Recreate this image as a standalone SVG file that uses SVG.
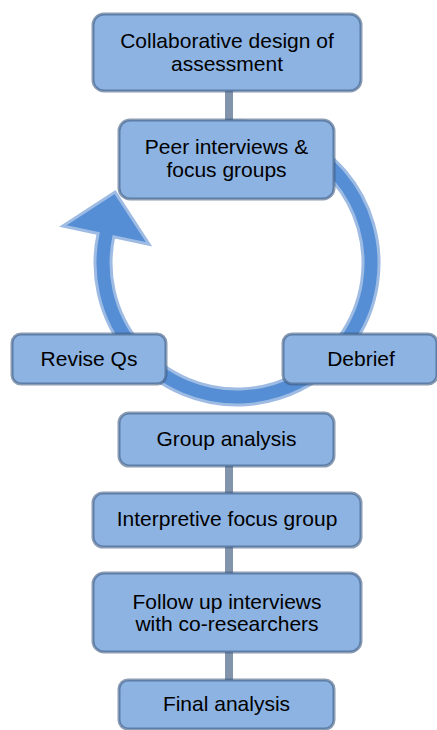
<svg xmlns="http://www.w3.org/2000/svg" width="437" height="730" viewBox="0 0 437 730">
<style>
.box{fill:#8db3e2;stroke:#3e5a80;stroke-opacity:0.6;stroke-width:3}
.lbl{font-family:"Liberation Sans",Arial,sans-serif;font-size:21px;fill:#000;text-anchor:middle}
.conn{stroke:#3e5a80;stroke-opacity:0.65;stroke-width:8;fill:none}
.ring{fill:#558ed5;stroke:#9dbbe3;stroke-width:3;stroke-linejoin:miter}
</style>
<rect width="437" height="730" fill="#fff"/>
<g id="cycle-arrow">
<path class="ring" d="M 166,140 A 142 142 0 1 1 98.1,233.5 L 62.9,226 L 115.1,192.1 L 149,244.3 L 113.8,236.8 A 126 126 0 1 0 174,153.9 Z"/>
</g>
<g id="connectors">
<line class="conn" x1="229" y1="91" x2="229" y2="121"/>
<line class="conn" x1="229" y1="466" x2="229" y2="494"/>
<line class="conn" x1="229" y1="547" x2="229" y2="574"/>
<line class="conn" x1="229" y1="652" x2="229" y2="681"/>
</g>
<g id="n1">
<rect class="box" x="93" y="14" width="268" height="77" rx="11"/>
<text class="lbl" x="227" y="48">Collaborative design of</text>
<text class="lbl" x="227" y="71">assessment</text>
</g>
<g id="n2">
<rect class="box" x="119" y="120" width="215" height="79" rx="11"/>
<text class="lbl" x="226.5" y="154">Peer interviews &amp;</text>
<text class="lbl" x="226.5" y="177">focus groups</text>
</g>
<g id="n3">
<rect class="box" x="12" y="334" width="154" height="50" rx="9"/>
<text class="lbl" x="89" y="366">Revise Qs</text>
</g>
<g id="n4">
<rect class="box" x="283" y="334" width="154" height="50" rx="9"/>
<text class="lbl" x="361" y="366">Debrief</text>
</g>
<g id="n5">
<rect class="box" x="119" y="413" width="215" height="53" rx="10"/>
<text class="lbl" x="226.5" y="446">Group analysis</text>
</g>
<g id="n6">
<rect class="box" x="93" y="493" width="268" height="54" rx="10"/>
<text class="lbl" x="227" y="526">Interpretive focus group</text>
</g>
<g id="n7">
<rect class="box" x="93" y="573" width="268" height="79" rx="11"/>
<text class="lbl" x="227" y="609">Follow up interviews</text>
<text class="lbl" x="227" y="631">with co-researchers</text>
</g>
<g id="n8">
<rect class="box" x="119" y="680" width="215" height="49" rx="9"/>
<text class="lbl" x="226.5" y="711">Final analysis</text>
</g>
</svg>
